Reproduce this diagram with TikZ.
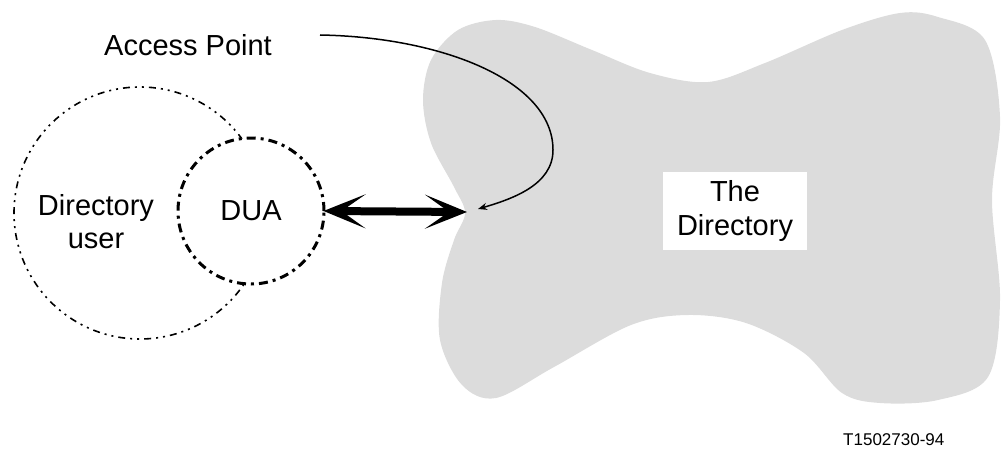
\documentclass[tikz,border=0pt]{standalone}
\usepackage{fontspec}
\setmainfont{Liberation Sans}
\usetikzlibrary{arrows.meta}
\definecolor{bonegray}{RGB}{220,220,220}
\tikzset{
  lbl/.style={font=\fontsize{29}{33}\selectfont, inner sep=0pt, align=center},
  usercirc/.style={circle, draw=black, line width=1.6pt, minimum size=252pt, inner sep=0pt,
    dash pattern=on 7pt off 5pt on 2pt off 5pt on 2pt off 5pt},
  duacirc/.style={circle, draw=black, fill=white, line width=3pt, minimum size=146pt, inner sep=0pt,
    dash pattern=on 9pt off 5pt on 3pt off 5pt, font=\fontsize{29}{33}\selectfont},
  dirbox/.style={fill=white, minimum width=144pt, minimum height=78pt, inner sep=0pt, align=center,
    font=\fontsize{29}{33}\selectfont},
  bigarrow/.style={line width=8pt, {Stealth[length=42pt,width=34pt,inset=24pt]}-{Stealth[length=42pt,width=34pt,inset=24pt]}, shorten <=-2pt},
  aparrow/.style={line width=1.5pt, -{Stealth[length=9pt,width=7pt]}},
}
\begin{document}
\begin{tikzpicture}[x=1pt,y=-1pt]
\useasboundingbox (0,0) rectangle (1006,452);
% the directory (bone shape)
\fill[bonegray] plot[smooth cycle, tension=0.55] coordinates {
 (496,20) (535,27) (592,50) (650,73) (708,82) (765,63) (842,30) (900,13) (938,17) (985,40)
 (1000,117) (992,200) (1000,300) (988,377) (938,400) (880,403) (842,393) (804,353) (746,323)
 (688,315) (631,325) (554,367) (496,398) (462,385) (440,340) (442,283) (454,240) (465,213)
 (454,187) (431,143) (423,100) (431,60) (458,30)};
\node[dirbox] (dir) at (735,211) {The\\Directory};
% directory user and DUA
\node[usercirc] (usr) at (140,213) {};
\node[lbl] (usrtxt) at (96,222) {Directory\\user};
\node[duacirc] (dua) at (251,211) {DUA};
\coordinate (waist) at (467,212);
\draw[bigarrow] (dua.east) -- (waist);
% access point
\node[lbl] (ap) at (188,45) {Access Point};
\coordinate (apend) at (478,209);
\draw[aparrow] (320,35) .. controls (440,37) and (553,80) .. (553,150)
   .. controls (553,185) and (512,199) .. (apend);
\node[font=\fontsize{17}{19}\selectfont, inner sep=0pt, anchor=west] (fig) at (843,440) {T1502730-94};
\end{tikzpicture}
\end{document}
